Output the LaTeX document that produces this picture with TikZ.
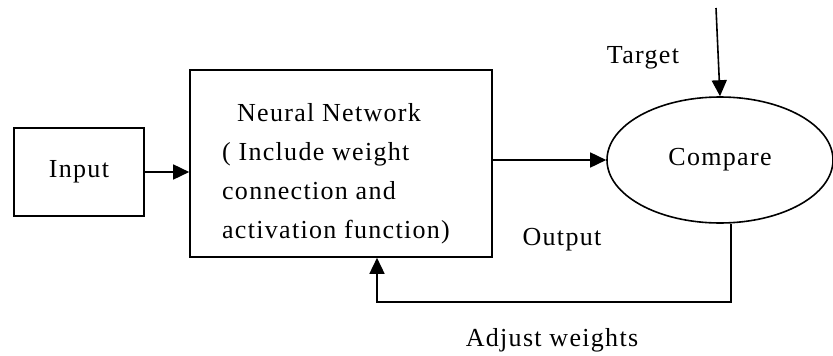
\documentclass[tikz,border=0pt]{standalone}
\usepackage{fontspec}
\setmainfont[LetterSpace=5]{Liberation Serif}
\usepackage{tikz}
\usetikzlibrary{arrows.meta, positioning, shapes.geometric, calc}

\begin{document}
\begin{tikzpicture}[
    x=1pt, y=-1pt,
    font=\fontsize{26}{39}\selectfont,
    box/.style={rectangle, draw, line width=1.6pt, inner sep=0pt},
    label/.style={inner sep=0pt},
    arrow/.style={line width=1.6pt, -{Triangle[length=16pt, width=15pt]}}
]
    \useasboundingbox (0, 0) rectangle (833, 356);

    \node[box, minimum width=130pt, minimum height=88pt] (input) at (79, 172) {Input};
    \node[box, minimum width=302pt, minimum height=187pt] (nn) at (341, 163.5) {};
    \node[label, align=left] (nntext) at (336, 174) {\hspace{15pt}Neural Network\\( Include weight\\connection and\\activation function)};
    \node[ellipse, draw, line width=1.6pt, minimum width=226pt, minimum height=126pt] (compare) at (720, 160) {Compare};

    \node[label] (target) at (643, 58) {Target};
    \node[label] (output) at (562, 240) {Output};
    \node[label] (adjust) at (552, 340) {Adjust weights};

    \coordinate (top) at (716, 8);
    \coordinate (loop) at (377, 302);

    \draw[arrow] (input.east) -- (input.east -| nn.west);
    \draw[arrow] (nn.east |- compare.west) -- (compare.west);
    \draw[arrow] (top) -- (compare.north);
    \draw[arrow] ([xshift=11pt]compare.south) |- (loop) -- (loop |- nn.south);
\end{tikzpicture}
\end{document}
